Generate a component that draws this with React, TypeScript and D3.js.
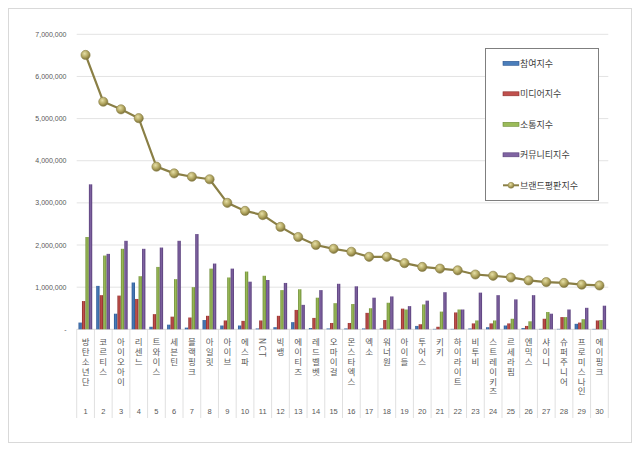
import React, { useEffect, useRef } from 'react';
import * as d3 from 'd3';

const groups = [
  '방탄소년단', '코르티스', '아이오아이', '리센느', '트와이스', '세븐틴', '블랙핑크', '아일릿', '아이브', '에스파',
  'NCT', '빅뱅', '에이티즈', '레드벨벳', '오마이걸', '몬스타엑스', '엑소', '워너원', '아이들', '투어스',
  '키키', '하이라이트', '비투비', '스트레이키즈', '르세라핌', '엔믹스', '샤이니', '슈퍼주니어', '프로미스나인', '에이핑크',
];

const participation = [
  160000, 1030000, 370000, 1110000, 60000, 110000, 40000, 220000, 90000, 90000,
  20000, 50000, 170000, 30000, 20000, 20000, 20000, 20000, 10000, 80000,
  10000, 10000, 20000, 50000, 90000, 30000, 10000, 10000, 130000, 10000,
];
const media = [
  670000, 810000, 800000, 720000, 360000, 300000, 280000, 320000, 210000, 200000,
  210000, 320000, 460000, 270000, 150000, 150000, 390000, 220000, 490000, 120000,
  60000, 400000, 140000, 140000, 140000, 80000, 250000, 290000, 160000, 210000,
];
const communication = [
  2190000, 1750000, 1910000, 1260000, 1480000, 1190000, 1000000, 1440000, 1230000, 1370000,
  1270000, 930000, 950000, 750000, 620000, 600000, 500000, 630000, 470000, 590000,
  420000, 470000, 210000, 210000, 250000, 190000, 410000, 290000, 240000, 220000,
];
const community = [
  3440000, 1790000, 2100000, 1910000, 1940000, 2100000, 2260000, 1560000, 1440000, 1130000,
  1170000, 1100000, 580000, 930000, 1080000, 1020000, 750000, 780000, 550000, 680000,
  880000, 470000, 870000, 810000, 710000, 810000, 370000, 470000, 510000, 560000,
];
const brand = [
  6510000, 5400000, 5220000, 5010000, 3860000, 3700000, 3620000, 3560000, 3000000, 2810000,
  2710000, 2430000, 2190000, 2000000, 1910000, 1840000, 1720000, 1720000, 1570000, 1480000,
  1440000, 1400000, 1300000, 1270000, 1230000, 1160000, 1120000, 1100000, 1060000, 1040000,
];

const barSeries = [
  { name: '참여지수', values: participation, color: '#4a7ebb', dark: '#2c5590' },
  { name: '미디어지수', values: media, color: '#c0504d', dark: '#8c2c2a' },
  { name: '소통지수', values: communication, color: '#9bbb59', dark: '#6b8a34' },
  { name: '커뮤니티지수', values: community, color: '#8064a2', dark: '#563c78' },
];
const lineName = '브랜드평판지수';

const yTicks = [0, 1000000, 2000000, 3000000, 4000000, 5000000, 6000000, 7000000];

const FONT = '"Noto Sans CJK KR", "Noto Sans", sans-serif';

const App: React.FC = () => {
  const svgRef = useRef<SVGSVGElement | null>(null);

  useEffect(() => {
    if (!svgRef.current) return;
    const svg = d3.select(svgRef.current).html('');

    const left = 76.7, right = 608.3, top = 34.3, bottom = 329.3;

    const x = d3.scaleBand<string>().domain(groups).range([left, right]).paddingInner(0).paddingOuter(0);
    const xInner = d3.scaleBand<string>()
      .domain(barSeries.map(s => s.name))
      .range([1.8, x.bandwidth() - 2.2])
      .paddingInner(0.04);
    const y = d3.scaleLinear().domain([0, 7000000]).range([bottom, top]);

    // gradients
    const defs = svg.append('defs');
    barSeries.forEach((s, i) => {
      const gr = defs.append('linearGradient').attr('id', `bar${i}`).attr('x1', 0).attr('x2', 1).attr('y1', 0).attr('y2', 0);
      gr.append('stop').attr('offset', '0%').attr('stop-color', s.dark);
      gr.append('stop').attr('offset', '45%').attr('stop-color', s.color);
      gr.append('stop').attr('offset', '100%').attr('stop-color', s.dark);
    });
    const rg = defs.append('radialGradient').attr('id', 'marker').attr('cx', '40%').attr('cy', '35%').attr('r', '65%');
    rg.append('stop').attr('offset', '0%').attr('stop-color', '#e6dfa6');
    rg.append('stop').attr('offset', '60%').attr('stop-color', '#b0a45e');
    rg.append('stop').attr('offset', '100%').attr('stop-color', '#7d723a');

    // outer frame
    svg.append('rect')
      .attr('x', 8.5).attr('y', 8.5).attr('width', 623).attr('height', 434)
      .attr('fill', '#fff').attr('stroke', '#d9d9d9');

    // grid lines
    svg.selectAll('.grid')
      .data(yTicks.filter(t => t > 0))
      .enter()
      .append('line')
      .attr('x1', left).attr('x2', right)
      .attr('y1', d => y(d)).attr('y2', d => y(d))
      .attr('stroke', '#e3e3e3').attr('stroke-width', 1);

    // y labels
    svg.selectAll('.ylab')
      .data(yTicks)
      .enter()
      .append('text')
      .attr('x', 66.5)
      .attr('y', d => y(d) + 2.5)
      .attr('text-anchor', 'end')
      .attr('font-size', 7)
      .attr('font-family', '"Liberation Sans", Arial, sans-serif')
      .attr('fill', '#595959')
      .text(d => (d === 0 ? '-' : d3.format(',')(d)));

    // category dividers
    const bounds = groups.map(g => x(g) as number).concat([right]);
    svg.selectAll('.div')
      .data(bounds)
      .enter()
      .append('line')
      .attr('x1', d => d).attr('x2', d => d)
      .attr('y1', bottom).attr('y2', 418)
      .attr('stroke', '#e0e0e0').attr('stroke-width', 1);
    svg.append('line')
      .attr('x1', left).attr('x2', right).attr('y1', bottom).attr('y2', bottom)
      .attr('stroke', '#d9d9d9');

    // bars
    barSeries.forEach((s, si) => {
      svg.append('g')
        .selectAll('rect')
        .data(s.values)
        .enter()
        .append('rect')
        .attr('x', (_, i) => (x(groups[i]) as number) + (xInner(s.name) as number))
        .attr('width', xInner.bandwidth())
        .attr('y', d => y(d))
        .attr('height', d => y(0) - y(d))
        .attr('fill', `url(#bar${si})`);
    });

    // brand line
    const line = d3.line<number>()
      .x((_, i) => (x(groups[i]) as number) + x.bandwidth() / 2)
      .y(d => y(d));
    svg.append('path')
      .datum(brand)
      .attr('fill', 'none')
      .attr('stroke', '#8a7f45')
      .attr('stroke-width', 2.2)
      .attr('d', line);
    svg.append('g')
      .selectAll('circle')
      .data(brand)
      .enter()
      .append('circle')
      .attr('cx', (_, i) => (x(groups[i]) as number) + x.bandwidth() / 2)
      .attr('cy', d => y(d))
      .attr('r', 4.6)
      .attr('fill', 'url(#marker)')
      .attr('stroke', '#8a8048')
      .attr('stroke-width', 0.6);

    // category labels, vertical writing (latin gets turned sideways like in the source)
    groups.forEach((g, i) => {
      const cx = (x(g) as number) + x.bandwidth() / 2;
      svg.append('text')
        .attr('x', cx)
        .attr('y', 338)
        .attr('font-size', 8.5)
        .attr('font-family', FONT)
        .attr('fill', '#595959')
        .style('writing-mode', 'vertical-rl')
        .style('letter-spacing', '1.3px')
        .text(g);
      svg.append('text')
        .attr('x', cx)
        .attr('y', 414.3)
        .attr('text-anchor', 'middle')
        .attr('font-size', 7.5)
        .attr('font-family', '"Liberation Sans", Arial, sans-serif')
        .attr('fill', '#595959')
        .text(String(i + 1));
    });

    // legend
    const lg = svg.append('g');
    lg.append('rect')
      .attr('x', 485.5).attr('y', 48.5).attr('width', 113).attr('height', 152)
      .attr('fill', '#fff').attr('stroke', '#7f7f7f').attr('stroke-width', 1);
    const rowY = [63.3, 93.8, 124.3, 154.8, 185.3];
    barSeries.forEach((s, si) => {
      lg.append('rect')
        .attr('x', 503).attr('y', rowY[si] - 2).attr('width', 16).attr('height', 4)
        .attr('fill', s.color).attr('stroke', s.dark).attr('stroke-width', 0.6);
      lg.append('text')
        .attr('x', 520).attr('y', rowY[si] + 3.3)
        .attr('font-size', 9)
        .attr('font-family', FONT)
        .attr('fill', '#404040')
        .text(s.name);
    });
    const ly = rowY[4];
    lg.append('line').attr('x1', 503).attr('x2', 519).attr('y1', ly).attr('y2', ly)
      .attr('stroke', '#8a7f45').attr('stroke-width', 2);
    lg.append('circle').attr('cx', 511).attr('cy', ly).attr('r', 3)
      .attr('fill', 'url(#marker)').attr('stroke', '#8a8048').attr('stroke-width', 0.5);
    lg.append('text')
      .attr('x', 520).attr('y', ly + 3.3)
      .attr('font-size', 9)
      .attr('font-family', FONT)
      .attr('fill', '#404040')
      .text(lineName);
  }, []);

  return (
    <svg
      ref={svgRef}
      width={640}
      height={450}
      style={{ position: 'absolute', left: 0, top: 0, background: '#fff' }}
    />
  );
};

export default App;
